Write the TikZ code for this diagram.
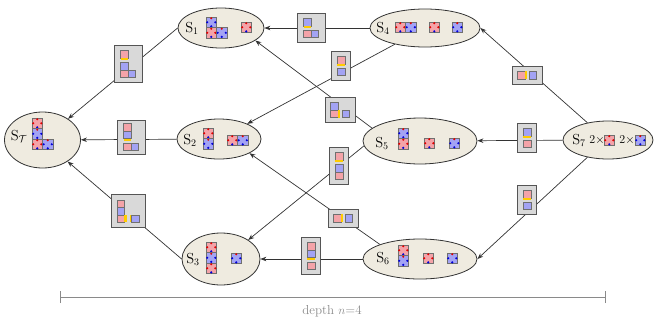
\documentclass[tikz,border=0pt]{standalone}
\usetikzlibrary{shapes.geometric,arrows.meta}
\definecolor{lred}{HTML}{F4A3A8}
\definecolor{lblue}{HTML}{A3A3F4}
\definecolor{sqb}{HTML}{707070}
\definecolor{dred}{HTML}{E00000}
\definecolor{dblue}{HTML}{0000D8}
\definecolor{ylw}{HTML}{FFCC00}
\definecolor{stfill}{HTML}{EFEBE0}
\definecolor{lgray}{HTML}{D9D9D9}
\definecolor{lbord}{HTML}{555555}
\definecolor{arrc}{HTML}{333333}
\definecolor{barc}{HTML}{8A8A8A}
\newcommand\RS[2]{%
  \filldraw[fill=lred,draw=sqb,line width=0.6pt] (#1,#2) rectangle ++(10.5,10.5);
  \fill[dred] (#1+5.25,#2+1.2) circle (1.2);
  \fill[dred] (#1+1.2,#2+5.25) circle (1.2);
  \fill[dred] (#1+9.3,#2+5.25) circle (1.2);
  \fill[dblue] (#1+5.25,#2+9.3) circle (1.2);}
\newcommand\BS[2]{%
  \filldraw[fill=lblue,draw=sqb,line width=0.6pt] (#1,#2) rectangle ++(10.5,10.5);
  \fill[dred] (#1+5.25,#2+1.2) circle (1.2);
  \fill[dblue] (#1+1.2,#2+5.25) circle (1.2);
  \fill[dblue] (#1+9.3,#2+5.25) circle (1.2);
  \fill[dblue] (#1+5.25,#2+9.3) circle (1.2);}
\newcommand\Q[3]{\filldraw[fill=#3,draw=sqb,line width=0.5pt] (#1,#2) rectangle ++(7.5,7.5);}
\newcommand\Y[4]{\fill[ylw] (#1,#2) rectangle (#3,#4);}
\begin{document}
\begin{tikzpicture}[x=1pt,y=-1pt,
  state/.style={ellipse,draw=arrc,fill=stfill,line width=0.8pt,inner sep=0pt},
  lbl/.style={rectangle,draw=lbord,fill=lgray,line width=0.8pt,inner sep=0pt},
  conn/.style={draw=arrc,line width=0.7pt,-{Stealth[length=6pt,width=4.5pt]}},
  stxt/.style={inner sep=0pt,font=\fontsize{14.5}{16}\selectfont},
  ntxt/.style={inner sep=0pt,font=\fontsize{12}{14}\selectfont}]
\useasboundingbox (0,0) rectangle (656,322);
% states
\node[state,minimum width=76pt,minimum height=56pt] (ST) at (42.5,140) {};
\node[state,minimum width=86pt,minimum height=40pt] (S1) at (221,28) {};
\node[state,minimum width=84pt,minimum height=40pt] (S2) at (219,139) {};
\node[state,minimum width=78pt,minimum height=52pt] (S3) at (221,259) {};
\node[state,minimum width=110pt,minimum height=38pt] (S4) at (425,28) {};
\node[state,minimum width=114pt,minimum height=46pt] (S5) at (420,141) {};
\node[state,minimum width=114pt,minimum height=40pt] (S6) at (420,259) {};
\node[state,minimum width=90pt,minimum height=38pt] (S7) at (608,140) {};
% state texts
\node[stxt] (tST) at (19,136) {S$_{\mathcal{T}}$};
\node[stxt] (t1) at (192,28) {S$_1$};
\node[stxt] (t2) at (190,140) {S$_2$};
\node[stxt] (t3) at (193,259) {S$_3$};
\node[stxt] (t4) at (383,28) {S$_4$};
\node[stxt] (t5) at (382,143) {S$_5$};
\node[stxt] (t6) at (383,258) {S$_6$};
\node[stxt] (t7) at (579,140) {S$_7$};
\node[ntxt] (t7a) at (597,140) {2$\times$};
\node[ntxt] (t7b) at (627,140) {2$\times$};
% state contents
\RS{32}{118}\BS{32}{128.5}\RS{32}{139}\BS{42.5}{139}
\BS{206}{17}\RS{206}{27.5}\BS{216.5}{27.5}\RS{241}{22}
\RS{203}{128}\BS{203}{138.5}\RS{227}{135}\BS{237.5}{135}
\RS{206}{242}\BS{206}{252.5}\RS{206}{263}\BS{231}{253}
\RS{395}{22}\BS{405.5}{22}\RS{429}{22}\BS{452}{22}
\BS{398}{128}\RS{398}{138.5}\RS{424}{138}\BS{449}{138}
\RS{398}{245}\BS{398}{255.5}\RS{423}{253}\BS{447}{253}
\RS{604}{135}\BS{635}{135}
% connectors
\draw[conn] (S4) -- (S1);
\draw[conn] (S4) -- (S2);
\draw[conn] (S5.165) -- (S1.-20);
\draw[conn] (S5.185) -- (S3.35);
\draw[conn] (S6.160) -- (S2.-25);
\draw[conn] (S6) -- (S3);
\draw[conn] (S7.140) -- (S4.east);
\draw[conn] (S7) -- (S5);
\draw[conn] (S7.220) -- (S6.east);
\draw[conn] (S1.west) -- (ST);
\draw[conn] (S2) -- (ST);
\draw[conn] (S3.west) -- (ST);
% edge labels
\node[lbl,minimum width=28pt,minimum height=37pt] (L1) at (128,64) {};
\begin{scope}[shift={(L1.center)}]
  \Q{-7.5}{-13.35}{lred}\Y{-7.5}{-5.85}{0}{-3.65}
  \Q{-7.5}{-1.65}{lblue}\Q{-7.5}{5.85}{lred}\Q{0}{5.85}{lblue}
\end{scope}
\node[lbl,minimum width=28pt,minimum height=34pt] (L2) at (131,137) {};
\begin{scope}[shift={(L2.center)}]
  \Q{-7.5}{-13.35}{lred}\Q{-7.5}{-5.85}{lblue}\Y{-7.5}{1.65}{0}{3.85}
  \Q{-7.5}{5.85}{lred}\Q{0}{5.85}{lblue}
\end{scope}
\node[lbl,minimum width=34pt,minimum height=33pt] (L3) at (128,211) {};
\begin{scope}[shift={(L3.center)}]
  \Q{-11.2}{-11.25}{lred}\Q{-11.2}{-3.75}{lblue}\Q{-11.2}{3.75}{lred}
  \Y{-3.7}{3.75}{-1.5}{11.25}\Y{1.5}{3.75}{3.7}{11.25}\Q{3.7}{3.75}{lblue}
\end{scope}
\node[lbl,minimum width=28pt,minimum height=29pt] (L4) at (311,28) {};
\begin{scope}[shift={(L4.center)}]
  \Q{-7.5}{-9.6}{lblue}\Y{-7.5}{-2.1}{0}{0.1}
  \Q{-7.5}{2.1}{lred}\Q{0}{2.1}{lblue}
\end{scope}
\node[lbl,minimum width=19pt,minimum height=29pt] (L5) at (341,66) {};
\begin{scope}[shift={(L5.center)}]
  \Q{-3.75}{-9.6}{lred}\Y{-3.75}{-2.1}{3.75}{0.1}\Q{-3.75}{2.1}{lblue}
\end{scope}
\node[lbl,minimum width=30pt,minimum height=25pt] (L6) at (340,110) {};
\begin{scope}[shift={(L6.center)}]
  \Q{-9.6}{-7.5}{lblue}\Q{-9.6}{0}{lred}\Y{-2.1}{0}{0.1}{7.5}\Q{2.1}{0}{lblue}
\end{scope}
\node[lbl,minimum width=19pt,minimum height=37pt] (L7) at (339,166) {};
\begin{scope}[shift={(L7.center)}]
  \Q{-3.75}{-13.35}{lred}\Y{-3.75}{-5.85}{3.75}{-3.65}
  \Q{-3.75}{-1.65}{lblue}\Q{-3.75}{5.85}{lred}
\end{scope}
\node[lbl,minimum width=30pt,minimum height=18pt] (L8) at (343,218) {};
\begin{scope}[shift={(L8.center)}]
  \Q{-9.6}{-3.75}{lred}\Y{-2.1}{-3.75}{0.1}{3.75}\Q{2.1}{-3.75}{lblue}
\end{scope}
\node[lbl,minimum width=19pt,minimum height=37pt] (L9) at (311,256) {};
\begin{scope}[shift={(L9.center)}]
  \Q{-3.75}{-13.35}{lred}\Q{-3.75}{-5.85}{lblue}\Y{-3.75}{1.65}{3.75}{3.85}
  \Q{-3.75}{5.85}{lred}
\end{scope}
\node[lbl,minimum width=30pt,minimum height=18pt] (L10) at (527,75) {};
\begin{scope}[shift={(L10.center)}]
  \Q{-9.6}{-3.75}{lred}\Y{-2.1}{-3.75}{0.1}{3.75}\Q{2.1}{-3.75}{lblue}
\end{scope}
\node[lbl,minimum width=19pt,minimum height=29pt] (L11) at (527,138) {};
\begin{scope}[shift={(L11.center)}]
  \Q{-3.75}{-9.6}{lblue}\Y{-3.75}{-2.1}{3.75}{0.1}\Q{-3.75}{2.1}{lred}
\end{scope}
\node[lbl,minimum width=19pt,minimum height=29pt] (L12) at (527,200) {};
\begin{scope}[shift={(L12.center)}]
  \Q{-3.75}{-9.6}{lred}\Y{-3.75}{-2.1}{3.75}{0.1}\Q{-3.75}{2.1}{lblue}
\end{scope}
% depth bar
\coordinate (b1) at (60,297);
\coordinate (b2) at (605,297);
\draw[barc,line width=1pt] (b1) -- (b2);
\draw[barc,line width=1pt] ([yshift=-6pt]b1) -- ([yshift=6pt]b1);
\draw[barc,line width=1pt] ([yshift=-6pt]b2) -- ([yshift=6pt]b2);
\node[inner sep=0pt,text=barc,font=\fontsize{13}{15}\selectfont] (dep) at (332,311) {depth $n$=4};
\end{tikzpicture}
\end{document}
